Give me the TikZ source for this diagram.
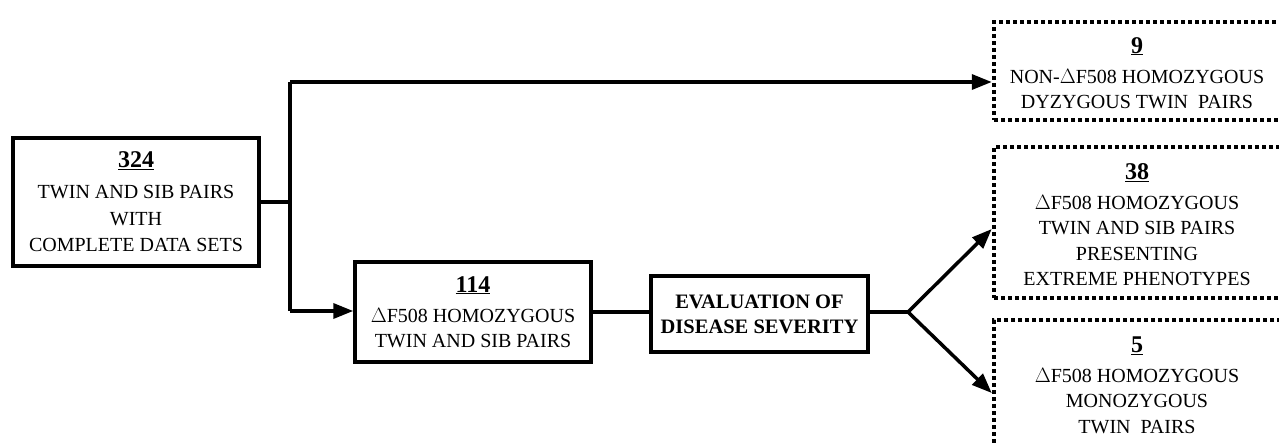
\documentclass[tikz,border=0pt]{standalone}
\usepackage{fontspec}
\setmainfont{Liberation Serif}
\usetikzlibrary{arrows.meta}
\newcommand\cnt[1]{\underline{\textbf{\fontsize{24}{26}\selectfont #1}}\\[4.5pt]}
\begin{document}
\begin{tikzpicture}[x=1pt,y=-1pt,
  txt/.style={align=center, inner sep=0pt, font=\fontsize{20}{25.5}\selectfont},
  box/.style={txt, draw, line width=3.5pt},
  dbox/.style={draw, line width=4.5pt, dash pattern=on 4pt off 3pt, inner sep=0pt},
  conn/.style={line width=3.5pt},
  arr/.style={conn, -{Triangle[length=20pt,width=15pt]}}]
\useasboundingbox (0,0) rectangle (1279,445);
\clip (0,0) rectangle (1279,445);

% solid boxes
\node[box, minimum width=246pt, minimum height=128pt, font=\fontsize{20}{26.5}\selectfont] (b324) at (136,202)
  {\cnt{324}TWIN AND SIB PAIRS\\WITH\\COMPLETE DATA SETS};
\node[box, minimum width=236pt, minimum height=100pt] (b114) at (473,312)
  {\cnt{114}$\Delta$F508 HOMOZYGOUS\\TWIN AND SIB PAIRS};
\node[box, minimum width=217pt, minimum height=76pt, font=\fontsize{20.5}{25}\selectfont\bfseries] (eval) at (759.5,314)
  {EVALUATION OF\\DISEASE SEVERITY};

% dotted result boxes (right side runs off the page)
\node[dbox, minimum width=288pt, minimum height=98pt] (b9) at (1138,71) {};
\node[dbox, minimum width=288pt, minimum height=151pt] (b38) at (1138,222.5) {};
\node[dbox, minimum width=288pt, minimum height=180pt] (b5) at (1138,410) {};
\node[txt] (t9) at (1137,73)
  {\cnt{9}NON-$\Delta$F508 HOMOZYGOUS\\DYZYGOUS TWIN\ \ PAIRS};
\node[txt] (t38) at (1137,224.5)
  {\cnt{38}$\Delta$F508 HOMOZYGOUS\\TWIN AND SIB PAIRS\\PRESENTING\\EXTREME PHENOTYPES};
\node[txt] (t5) at (1137,385)
  {\cnt{5}$\Delta$F508 HOMOZYGOUS\\MONOZYGOUS\\TWIN\ \ PAIRS};

% connectors
\coordinate (jt) at (290,82);
\coordinate (jb) at (290,311);
\coordinate (fork) at (908,312);
\draw[conn] (b324.east) -- (b324.east -| jt);
\draw[conn] (jt) -- (jb);
\draw[arr] (jt) -- (b9.west |- jt);
\draw[arr] (jb) -- (b114.west |- jb);
\draw[conn] (b114.east |- fork) -- (eval.west |- fork);
\draw[conn] (eval.east |- fork) -- (fork);
\draw[arr] (fork) -- (b38.west |- 0,229);
\draw[arr] (fork) -- (b5.west |- 0,393);
\end{tikzpicture}
\end{document}
